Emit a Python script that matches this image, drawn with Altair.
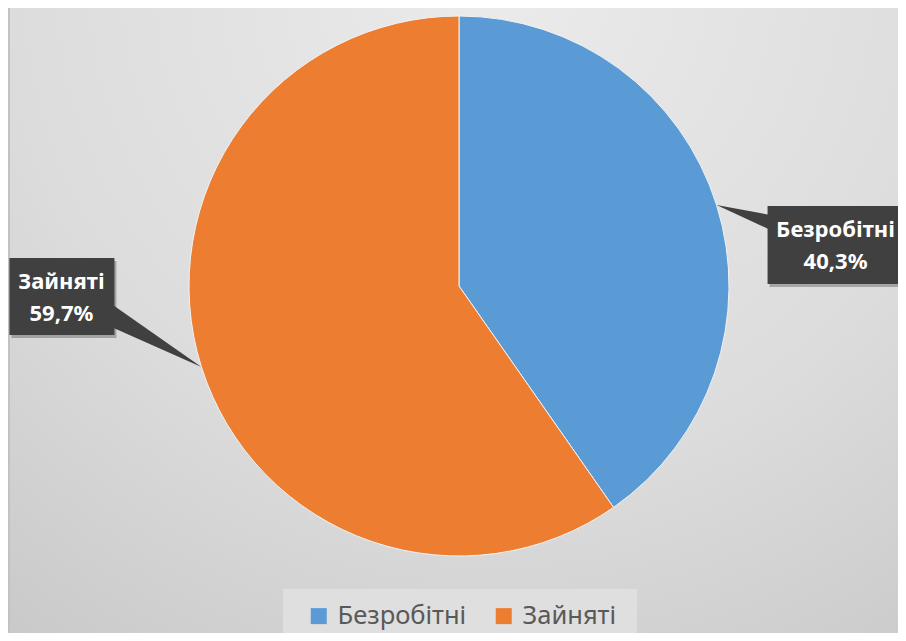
import altair as alt
import numpy as np
import pandas as pd

# ---- data ----
categories = ["Безробітні", "Зайняті"]
shares = [40.3, 59.7]
share_labels = ["40,3%", "59,7%"]
colors = ["#5B9BD5", "#ED7D31"]

# ---- layout ----
W, H = 890, 625
CX, CY, R = 451, 278, 270
# callout boxes, relative to the pointer tip on the slice edge
box_dx0 = [51, -192]
box_dx1 = [196, -87]
box_dy0 = [1, -109]
box_dy1 = [79, -32]
text_dx = [119, -140]
text_dy = [25, -85]
pointer_paths = ["M0,0 L54,10 L54,25 Z", "M0,0 L-90,-63 L-90,-40 Z"]

vals = np.array(shares)
cum = np.cumsum(vals)
mid = (cum - vals / 2) / vals.sum() * 2 * np.pi
tip_x = CX + R * np.sin(mid)
tip_y = CY - R * np.cos(mid)

pie_df = pd.DataFrame({"cat": categories, "share": shares, "order": list(range(len(categories)))})

call_df = pd.DataFrame({
    "cat": categories,
    "label": [c + "\n" + p for c, p in zip(categories, share_labels)],
    "tx": tip_x,
    "ty": tip_y,
    "x0": tip_x + np.array(box_dx0),
    "x1": tip_x + np.array(box_dx1),
    "y0": tip_y + np.array(box_dy0),
    "y1": tip_y + np.array(box_dy1),
    "lx": tip_x + np.array(text_dx),
    "ly": tip_y + np.array(text_dy),
    "path": pointer_paths,
})
call_df["sx0"] = call_df["x0"] + 2
call_df["sx1"] = call_df["x1"] + 2
call_df["sy0"] = call_df["y0"] + 3
call_df["sy1"] = call_df["y1"] + 3

xs = alt.Scale(domain=[0, W], zero=False, nice=False)
ys = alt.Scale(domain=[H, 0], zero=False, nice=False)

one = pd.DataFrame({"k": [0]})

bg = alt.Chart(one).mark_rect(
    fill=alt.RadialGradient(
        gradient="radial",
        stops=[alt.GradientStop(color="#ebebeb", offset=0),
               alt.GradientStop(color="#dcdcdc", offset=0.55),
               alt.GradientStop(color="#c5c5c5", offset=1)],
        x1=0.55, y1=0.12, r1=0, x2=0.55, y2=0.12, r2=1.0,
    )
).encode(x=alt.value(0), x2=alt.value(W), y=alt.value(0), y2=alt.value(H))

edge = alt.Chart(one).mark_rect(color="#c2c2c2").encode(
    x=alt.value(0), x2=alt.value(2), y=alt.value(0), y2=alt.value(H))

legend_bg = alt.Chart(one).mark_rect(color="#dfdfdf").encode(
    x=alt.value(275), x2=alt.value(629), y=alt.value(581), y2=alt.value(H))

pie = alt.Chart(pie_df).mark_arc(radius=R, stroke="#f2f2f2", strokeWidth=1).encode(
    theta=alt.Theta("share:Q", stack=True),
    order=alt.Order("order:Q"),
    color=alt.Color(
        "cat:N",
        scale=alt.Scale(domain=categories, range=colors),
        legend=alt.Legend(
            title=None, orient="none", legendX=298, legendY=595,
            direction="horizontal", symbolType="square", symbolSize=256,
            symbolStrokeWidth=0, symbolOpacity=1, labelFont="Noto Sans",
            labelFontSize=25.5, labelColor="#595959", labelOffset=6,
            columnPadding=24, padding=0, labelLimit=300,
        ),
    ),
    x=alt.value(CX),
    y=alt.value(CY),
)

shadow = alt.Chart(call_df).mark_rect(color="#000000", opacity=0.25).encode(
    x=alt.X("sx0:Q", scale=xs, axis=None), x2="sx1:Q",
    y=alt.Y("sy0:Q", scale=ys, axis=None), y2="sy1:Q",
)

boxes = alt.Chart(call_df).mark_rect(color="#404040").encode(
    x=alt.X("x0:Q", scale=xs, axis=None), x2="x1:Q",
    y=alt.Y("y0:Q", scale=ys, axis=None), y2="y1:Q",
)

pointers = alt.Chart(call_df).mark_point(
    filled=True, size=4, color="#404040", opacity=1, strokeWidth=0
).encode(
    x=alt.X("tx:Q", scale=xs, axis=None),
    y=alt.Y("ty:Q", scale=ys, axis=None),
    shape=alt.Shape("path:N", scale=None, legend=None),
)

texts = alt.Chart(call_df).mark_text(
    color="white", font="Noto Sans", fontWeight="bold", fontSize=22,
    lineBreak="\n", lineHeight=32, align="center", baseline="middle",
).encode(
    x=alt.X("lx:Q", scale=xs, axis=None),
    y=alt.Y("ly:Q", scale=ys, axis=None),
    text="label:N",
)

chart = alt.layer(bg, edge, legend_bg, pie, shadow, pointers, boxes, texts).properties(
    width=W, height=H, autosize=alt.AutoSizeParams(type="none"), padding=0,
    background="transparent",
).configure_view(stroke=None)

chart.save("out.html", embed_options={"renderer": "svg", "actions": False})
